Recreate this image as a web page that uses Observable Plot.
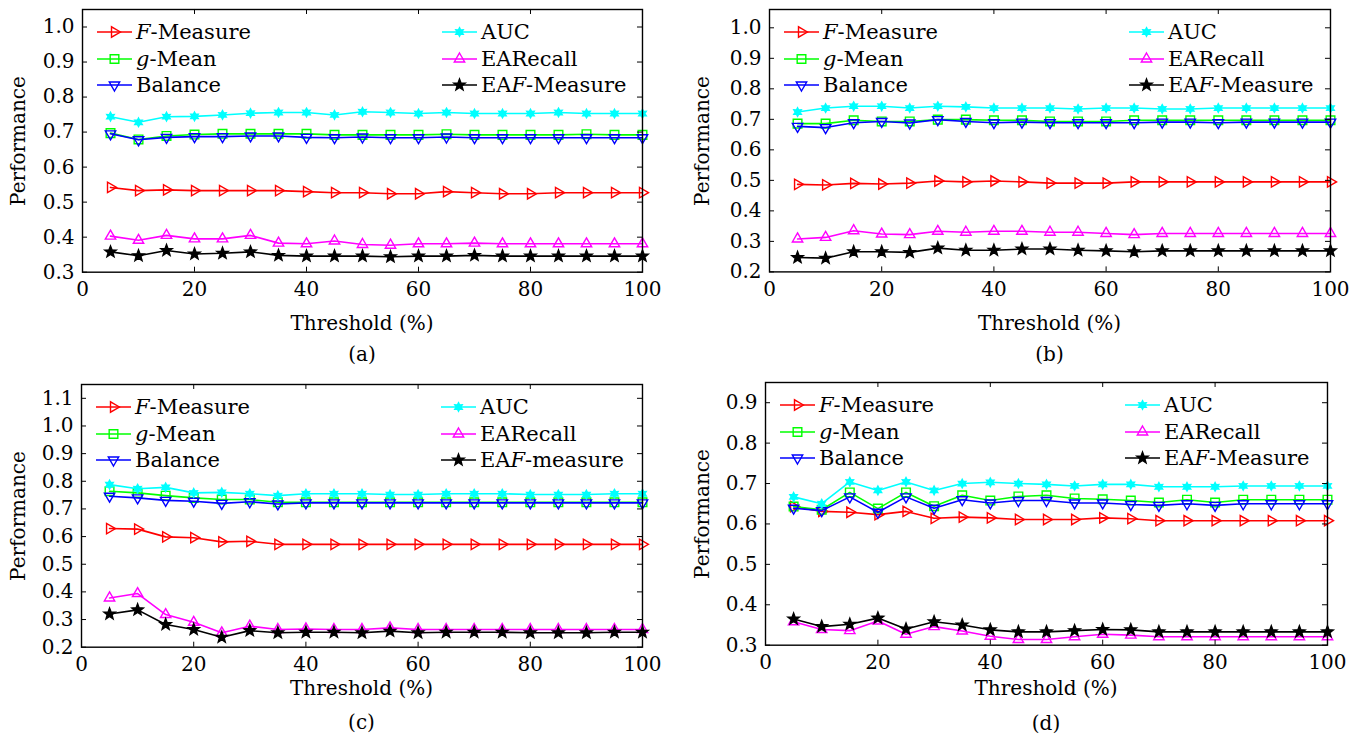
<!DOCTYPE html>
<html><head><meta charset="utf-8">
<script src="https://cdn.jsdelivr.net/npm/d3@7"></script>
<script src="https://cdn.jsdelivr.net/npm/@observablehq/plot@0.6"></script>
<style>
body{margin:0;background:#fff;}
#root{position:relative;width:1365px;height:738px;overflow:hidden;background:#fff;font-family:"DejaVu Serif",serif;color:#000;}
.abs{position:absolute;white-space:nowrap;line-height:1;}
</style></head><body><div id="root"></div>
<script>
// ---------- data ----------
const thresholds = [5,10,15,20,25,30,35,40,45,50,55,60,65,70,75,80,85,90,95,100];
const xTicks = [0,20,40,60,80,100];

const legendA = ["<i>F</i>-Measure","<i>g</i>-Mean","Balance","AUC","EARecall","EA<i>F</i>-Measure"];
const legendC = ["<i>F</i>-Measure","<i>g</i>-Mean","Balance","AUC","EARecall","EA<i>F</i>-measure"];
const seriesColors = ["#ff0000","#00ff00","#0000ff","#00ffff","#ff00ff","#000000"];

// (a)
const aFMeasure = [0.542,0.533,0.535,0.533,0.533,0.533,0.533,0.530,0.527,0.527,0.524,0.524,0.530,0.527,0.524,0.524,0.527,0.527,0.527,0.527];
const aGMean    = [0.697,0.679,0.689,0.693,0.695,0.695,0.695,0.695,0.692,0.692,0.692,0.692,0.694,0.692,0.692,0.692,0.692,0.694,0.692,0.692];
const aBalance  = [0.695,0.678,0.685,0.687,0.687,0.689,0.689,0.685,0.684,0.686,0.684,0.684,0.686,0.684,0.684,0.684,0.684,0.684,0.684,0.684];
const aAUC      = [0.744,0.728,0.744,0.745,0.749,0.754,0.756,0.756,0.749,0.758,0.756,0.753,0.756,0.753,0.753,0.753,0.756,0.753,0.753,0.753];
const aEARecall = [0.403,0.391,0.405,0.395,0.395,0.405,0.383,0.381,0.389,0.379,0.377,0.381,0.381,0.383,0.381,0.381,0.381,0.381,0.381,0.381];
const aEAF      = [0.358,0.347,0.362,0.352,0.354,0.358,0.348,0.346,0.346,0.346,0.344,0.346,0.346,0.348,0.346,0.346,0.346,0.346,0.346,0.346];
const aYTicks = [0.3,0.4,0.5,0.6,0.7,0.8,0.9,1.0];

// (b)
const bFMeasure = [0.487,0.485,0.490,0.488,0.491,0.498,0.495,0.498,0.495,0.491,0.491,0.491,0.495,0.495,0.495,0.495,0.495,0.495,0.495,0.495];
const bGMean    = [0.686,0.686,0.697,0.693,0.693,0.699,0.699,0.697,0.697,0.693,0.693,0.693,0.697,0.697,0.697,0.697,0.697,0.697,0.697,0.697];
const bBalance  = [0.677,0.673,0.689,0.693,0.688,0.699,0.693,0.689,0.691,0.689,0.689,0.689,0.689,0.691,0.691,0.689,0.691,0.691,0.691,0.691];
const bAUC      = [0.724,0.737,0.743,0.743,0.737,0.743,0.741,0.737,0.737,0.737,0.734,0.737,0.737,0.734,0.734,0.737,0.737,0.737,0.737,0.737];
const bEARecall = [0.308,0.313,0.335,0.324,0.322,0.333,0.330,0.333,0.333,0.330,0.330,0.326,0.322,0.326,0.326,0.326,0.326,0.326,0.326,0.326];
const bEAF      = [0.247,0.245,0.266,0.266,0.264,0.278,0.271,0.271,0.275,0.275,0.271,0.269,0.266,0.269,0.269,0.269,0.269,0.269,0.269,0.269];
const bYTicks = [0.2,0.3,0.4,0.5,0.6,0.7,0.8,0.9,1.0];

// (c)
const cFMeasure = [0.629,0.627,0.599,0.596,0.581,0.583,0.572,0.572,0.572,0.572,0.572,0.572,0.572,0.572,0.572,0.572,0.572,0.572,0.572,0.572];
const cGMean    = [0.764,0.758,0.748,0.740,0.734,0.734,0.724,0.724,0.724,0.724,0.724,0.724,0.724,0.724,0.724,0.724,0.724,0.724,0.724,0.724];
const cBalance  = [0.746,0.740,0.731,0.728,0.720,0.726,0.718,0.722,0.722,0.722,0.722,0.722,0.722,0.722,0.722,0.722,0.722,0.722,0.722,0.722];
const cAUC      = [0.788,0.773,0.778,0.758,0.760,0.755,0.748,0.755,0.755,0.755,0.752,0.752,0.755,0.755,0.755,0.752,0.752,0.752,0.755,0.755];
const cEARecall = [0.378,0.394,0.318,0.290,0.252,0.276,0.264,0.266,0.264,0.264,0.270,0.264,0.264,0.264,0.264,0.264,0.264,0.264,0.264,0.264];
const cEAF      = [0.320,0.335,0.282,0.264,0.236,0.260,0.252,0.254,0.254,0.252,0.258,0.252,0.254,0.254,0.254,0.252,0.252,0.252,0.254,0.254];
const cYTicks = [0.2,0.3,0.4,0.5,0.6,0.7,0.8,0.9,1.0,1.1];

// (d)
const dFMeasure = [0.643,0.631,0.629,0.623,0.631,0.614,0.617,0.615,0.611,0.611,0.611,0.615,0.613,0.608,0.608,0.608,0.608,0.608,0.608,0.608];
const dGMean    = [0.643,0.635,0.678,0.638,0.678,0.644,0.671,0.658,0.668,0.671,0.663,0.661,0.658,0.653,0.660,0.653,0.660,0.660,0.660,0.660];
const dBalance  = [0.639,0.633,0.667,0.629,0.667,0.639,0.660,0.652,0.658,0.658,0.652,0.652,0.648,0.646,0.650,0.646,0.650,0.650,0.650,0.650];
const dAUC      = [0.667,0.650,0.704,0.683,0.704,0.683,0.700,0.703,0.700,0.698,0.694,0.698,0.698,0.692,0.692,0.692,0.694,0.694,0.694,0.694];
const dEARecall = [0.358,0.339,0.336,0.360,0.327,0.346,0.335,0.322,0.314,0.314,0.321,0.327,0.325,0.321,0.321,0.321,0.321,0.321,0.321,0.321];
const dEAF      = [0.365,0.346,0.352,0.367,0.340,0.358,0.350,0.338,0.333,0.333,0.336,0.339,0.338,0.333,0.333,0.333,0.333,0.333,0.333,0.333];
const dYTicks = [0.3,0.4,0.5,0.6,0.7,0.8,0.9];

// ---------- symbols ----------
function poly(ctx, pts){ ctx.moveTo(pts[0][0],pts[0][1]); for(let k=1;k<pts.length;k++) ctx.lineTo(pts[k][0],pts[k][1]); ctx.closePath(); }
const rOf = s => Math.sqrt(s/Math.PI);
const triRight = {draw(ctx,s){const r=rOf(s); poly(ctx,[[r,0],[-0.5*r,-0.866*r],[-0.5*r,0.866*r]]);}};
const triUp    = {draw(ctx,s){const r=rOf(s); poly(ctx,[[0,-r],[0.866*r,0.5*r],[-0.866*r,0.5*r]]);}};
const triDown  = {draw(ctx,s){const r=rOf(s); poly(ctx,[[0,r],[0.866*r,-0.5*r],[-0.866*r,-0.5*r]]);}};
const squareS  = {draw(ctx,s){const h=rOf(s)*0.72; poly(ctx,[[-h,-h],[h,-h],[h,h],[-h,h]]);}};
function starPts(n, R, ri){ const pts=[]; for(let k=0;k<2*n;k++){const a=-Math.PI/2+k*Math.PI/n; const rr=k%2?ri:R; pts.push([rr*Math.cos(a), rr*Math.sin(a)]);} return pts; }
const hexagram = {draw(ctx,s){const r=rOf(s); poly(ctx,starPts(6,r,r*0.55));}};
const star5    = {draw(ctx,s){const r=rOf(s); poly(ctx,starPts(5,r,r*0.42));}};
const seriesSymbols = [triRight, squareS, triDown, hexagram, triUp, star5];
const seriesR = [6, 6, 6, 4.3, 6, 6];
const seriesFill = ["none","none","none","#00ffff","none","#000000"];

const panels = [
  {tag:"(a)", left:82, right:642, top:9.3, bottom:272, yDomain:[0.3,1.05], yTicks:aYTicks,
   values:[aFMeasure,aGMean,aBalance,aAUC,aEARecall,aEAF], legend:legendA, perfX:18, thrY:323, tagY:354},
  {tag:"(b)", left:769, right:1330, top:9.3, bottom:271.7, yDomain:[0.2,1.06], yTicks:bYTicks,
   values:[bFMeasure,bGMean,bBalance,bAUC,bEARecall,bEAF], legend:legendA, perfX:702, thrY:323, tagY:354},
  {tag:"(c)", left:81, right:642, top:384.3, bottom:647, yDomain:[0.2,1.15], yTicks:cYTicks,
   values:[cFMeasure,cGMean,cBalance,cAUC,cEARecall,cEAF], legend:legendC, perfX:18, thrY:688, tagY:722},
  {tag:"(d)", left:765, right:1327, top:382.3, bottom:645, yDomain:[0.3,0.95], yTicks:dYTicks,
   values:[dFMeasure,dGMean,dBalance,dAUC,dEARecall,dEAF], legend:legendA, perfX:702, thrY:688, tagY:723}
];

const root = document.getElementById("root");
function addDiv(html, x, y, size, extra){
  const d = document.createElement("div");
  d.className = "abs";
  d.innerHTML = html;
  d.style.left = x + "px"; d.style.top = y + "px";
  d.style.fontSize = size + "px";
  d.style.transform = extra || "translate(-50%,-50%)";
  root.appendChild(d);
  return d;
}

panels.forEach(p => {
  const W = p.right - p.left, H = p.bottom - p.top;
  const mL = 70, mT = 12, mR = 16, mB = 40;
  const marks = [];
  p.values.forEach((vals, i) => {
    const rows = thresholds.map((t, j) => ({t, v: vals[j]}));
    marks.push(Plot.line(rows, {x: "t", y: "v", stroke: seriesColors[i], strokeWidth: 1.6}));
    marks.push(Plot.dot(rows, {x: "t", y: "v", symbol: seriesSymbols[i], r: seriesR[i],
      stroke: seriesColors[i], fill: seriesFill[i], strokeWidth: 1.4}));
  });
  marks.push(
    Plot.tickY(p.yTicks, {y: d => d, insetRight: W - 5, stroke: "#000", strokeWidth: 1}),
    Plot.tickY(p.yTicks, {y: d => d, insetLeft: W - 5, stroke: "#000", strokeWidth: 1}),
    Plot.tickX(xTicks, {x: d => d, insetBottom: H - 5, stroke: "#000", strokeWidth: 1}),
    Plot.tickX(xTicks, {x: d => d, insetTop: H - 5, stroke: "#000", strokeWidth: 1}),
    Plot.frame({stroke: "#000", strokeWidth: 1.4}),
    Plot.axisX({ticks: xTicks, tickSize: 0, tickPadding: 10, label: null, tickFormat: d => String(d)}),
    Plot.axisY({ticks: p.yTicks, tickSize: 0, tickPadding: 8, label: null, tickFormat: d3.format(".1f")})
  );
  const svg = Plot.plot({
    width: W + mL + mR, height: H + mT + mB,
    marginLeft: mL, marginRight: mR, marginTop: mT, marginBottom: mB,
    x: {domain: [0, 100]},
    y: {domain: p.yDomain},
    style: {fontFamily: "DejaVu Serif", fontSize: "20px", color: "#000", background: "transparent", overflow: "visible"},
    marks
  });
  svg.style.position = "absolute";
  svg.style.left = (p.left - mL) + "px";
  svg.style.top = (p.top - mT) + "px";
  root.appendChild(svg);

  // axis titles and panel tag
  addDiv("Performance", p.perfX, (p.top + p.bottom) / 2, 20, "translate(-50%,-50%) rotate(-90deg)");
  addDiv("Threshold (%)", (p.left + p.right) / 2, p.thrY, 20);
  addDiv(p.tag, (p.left + p.right) / 2, p.tagY, 20);

  // legend
  const rowsY = [22.5, 49.5, 76];
  p.legend.forEach((lab, i) => {
    const col = i < 3 ? 0 : 1, row = i % 3;
    const lx = p.left + (col ? 360 : 15);
    const ly = p.top + rowsY[row];
    const s = d3.create("svg").attr("width", 36).attr("height", 20)
      .style("position", "absolute").style("left", lx + "px").style("top", (ly - 10) + "px").style("overflow", "visible");
    s.append("line").attr("x1", 0).attr("x2", 35).attr("y1", 10).attr("y2", 10)
      .attr("stroke", seriesColors[i]).attr("stroke-width", 1.6);
    s.append("path").attr("transform", "translate(17.5,10)")
      .attr("d", d3.symbol(seriesSymbols[i], Math.PI * seriesR[i] * seriesR[i])())
      .attr("fill", seriesFill[i]).attr("stroke", seriesColors[i]).attr("stroke-width", 1.4);
    root.appendChild(s.node());
    addDiv(lab, p.left + (col ? 399 : 54), ly, 21, "translate(0,-50%)");
  });
});
</script></body></html>
